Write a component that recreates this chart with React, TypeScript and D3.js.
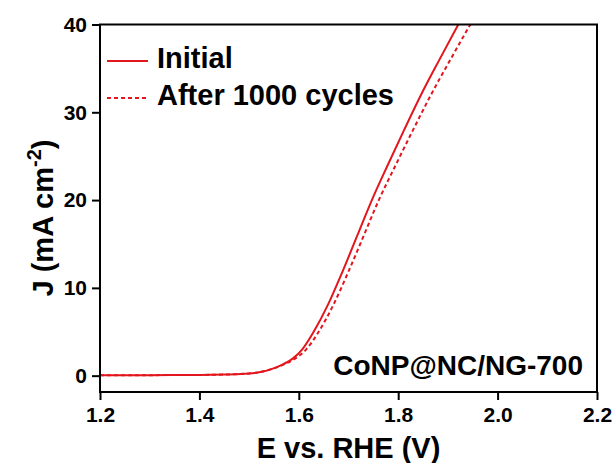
import React, { useEffect, useRef } from 'react';
import * as d3 from 'd3';

// E vs RHE (V) and J (mA cm-2)
const initialE = [1.20, 1.30, 1.40, 1.45, 1.50, 1.525, 1.545, 1.565, 1.589, 1.607, 1.630, 1.658, 1.689, 1.718, 1.747, 1.779, 1.812, 1.846, 1.883, 1.921];
const initialJ = [0.05, 0.06, 0.08, 0.13, 0.25, 0.45, 0.75, 1.2, 2.0, 3.0, 5.0, 8.0, 12.0, 16.0, 20.0, 24.0, 28.0, 32.0, 36.0, 40.0];
const cycledE = [1.20, 1.30, 1.40, 1.45, 1.50, 1.525, 1.545, 1.567, 1.594, 1.615, 1.640, 1.669, 1.701, 1.731, 1.761, 1.795, 1.830, 1.866, 1.905, 1.945];
const cycledJ = [0.05, 0.06, 0.08, 0.13, 0.25, 0.45, 0.75, 1.2, 2.0, 3.0, 5.0, 8.0, 12.0, 16.0, 20.0, 24.0, 28.0, 32.0, 36.0, 40.0];

const xTicks = [1.2, 1.4, 1.6, 1.8, 2.0, 2.2];
const yTicks = [0, 10, 20, 30, 40];
const legendLabels = ['Initial', 'After 1000 cycles'];
const sampleName = 'CoNP@NC/NG-700';

const App = () => {
    const svgRef = useRef<SVGSVGElement>(null);

    useEffect(() => {
        const width = 613;
        const height = 463;
        const left = 100, right = 597, top = 24.5, bottom = 392;
        const red = '#e3161e';
        const font = '"Liberation Sans", Arial, sans-serif';

        const svg = d3.select(svgRef.current).attr('width', width).attr('height', height);
        svg.selectAll('*').remove();

        const xScale = d3.scaleLinear().domain([1.2, 2.2]).range([left, right]);
        const yScale = d3.scaleLinear().domain([-1.86, 40]).range([bottom, top]);

        svg.append('defs').append('clipPath').attr('id', 'plot-clip')
            .append('rect')
            .attr('x', left).attr('y', top)
            .attr('width', right - left).attr('height', bottom - top);

        const line = d3.line<[number, number]>()
            .x(d => xScale(d[0]))
            .y(d => yScale(d[1]))
            .curve(d3.curveMonotoneX);

        const initial = initialE.map((e, i) => [e, initialJ[i]] as [number, number]);
        const cycled = cycledE.map((e, i) => [e, cycledJ[i]] as [number, number]);

        const plot = svg.append('g').attr('clip-path', 'url(#plot-clip)');
        plot.append('path')
            .datum(cycled)
            .attr('d', line)
            .attr('fill', 'none')
            .attr('stroke', red)
            .attr('stroke-width', 2)
            .attr('stroke-dasharray', '4,3');
        plot.append('path')
            .datum(initial)
            .attr('d', line)
            .attr('fill', 'none')
            .attr('stroke', red)
            .attr('stroke-width', 2);

        // frame
        svg.append('rect')
            .attr('x', left).attr('y', top)
            .attr('width', right - left).attr('height', bottom - top)
            .attr('fill', 'none')
            .attr('stroke', '#000')
            .attr('stroke-width', 2);

        // x axis
        const xAxis = svg.append('g')
            .attr('transform', `translate(0,${bottom})`)
            .call(d3.axisBottom(xScale).tickValues(xTicks).tickFormat(d3.format('.1f')).tickSize(8).tickPadding(7));
        xAxis.select('.domain').remove();
        xAxis.selectAll('line').attr('stroke', '#000').attr('stroke-width', 2);
        xAxis.selectAll('text')
            .attr('font-family', font).attr('font-weight', 'bold').attr('font-size', 21).attr('fill', '#000');

        // y axis
        const yAxis = svg.append('g')
            .attr('transform', `translate(${left},0)`)
            .call(d3.axisLeft(yScale).tickValues(yTicks).tickSize(8).tickPadding(5));
        yAxis.select('.domain').remove();
        yAxis.selectAll('line').attr('stroke', '#000').attr('stroke-width', 2);
        yAxis.selectAll('text')
            .attr('font-family', font).attr('font-weight', 'bold').attr('font-size', 21).attr('fill', '#000');

        // axis titles
        svg.append('text')
            .attr('x', (left + right) / 2)
            .attr('y', 458)
            .attr('text-anchor', 'middle')
            .attr('font-family', font).attr('font-weight', 'bold').attr('font-size', 29)
            .text('E vs. RHE (V)');

        const yTitle = svg.append('text')
            .attr('transform', 'translate(53,218) rotate(-90)')
            .attr('text-anchor', 'middle')
            .attr('font-family', font).attr('font-weight', 'bold').attr('font-size', 29);
        yTitle.append('tspan').text('J (mA cm');
        yTitle.append('tspan').attr('font-size', 20).attr('dy', -12).text('-2');
        yTitle.append('tspan').attr('dy', 12).text(')');

        // legend
        const legend = svg.append('g');
        legendLabels.forEach((label, i) => {
            const ly = 61 + i * 37;
            legend.append('line')
                .attr('x1', 107).attr('x2', 148)
                .attr('y1', ly).attr('y2', ly)
                .attr('stroke', red)
                .attr('stroke-width', 2)
                .attr('stroke-dasharray', i === 1 ? '4,3' : null);
            legend.append('text')
                .attr('x', 157)
                .attr('y', ly + 7)
                .attr('font-family', font).attr('font-weight', 'bold').attr('font-size', 29)
                .text(label);
        });

        svg.append('text')
            .attr('x', 583)
            .attr('y', 375)
            .attr('text-anchor', 'end')
            .attr('font-family', font).attr('font-weight', 'bold').attr('font-size', 28)
            .text(sampleName);
    }, []);

    return (
        <svg ref={svgRef} style={{ position: 'absolute', left: 0, top: 0, background: '#fff' }}></svg>
    );
};

export default App;
